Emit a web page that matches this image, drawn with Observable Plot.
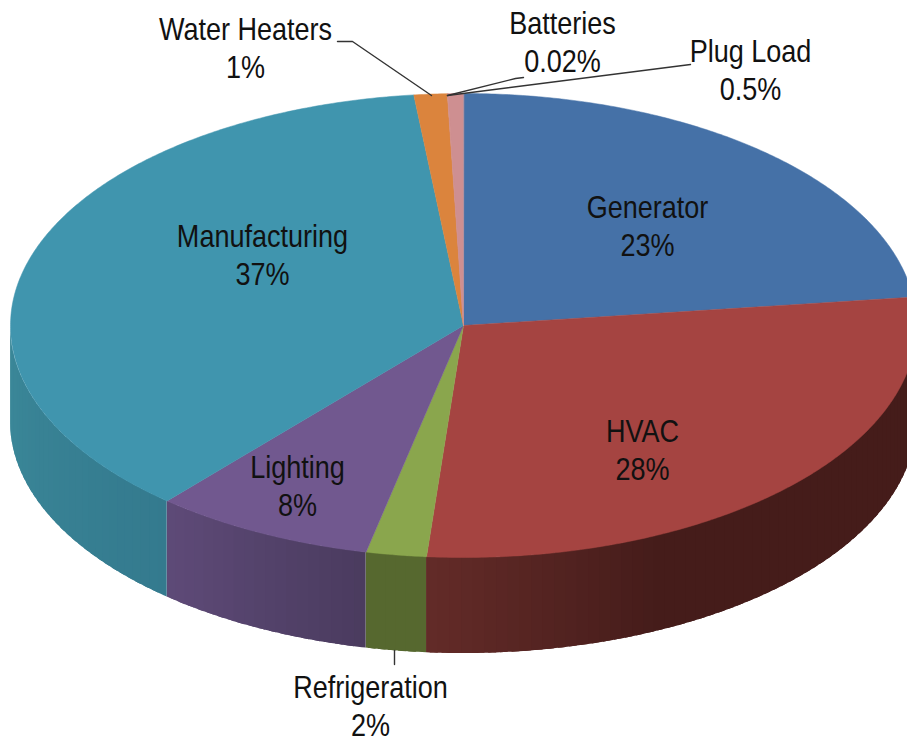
<!DOCTYPE html>
<html>
<head>
<meta charset="utf-8">
<style>html,body{margin:0;padding:0;background:#fff}svg{display:block}</style>
<script src="https://cdn.jsdelivr.net/npm/d3@7"></script>
<script src="https://cdn.jsdelivr.net/npm/@observablehq/plot@0.6"></script>
</head>
<body>
<div id="chart"></div>
<script>
// Data
const categories = ["Generator","HVAC","Refrigeration","Lighting","Manufacturing","Water Heaters","Batteries","Plug Load"];
const shares = [23.05,28.25,2.15,7.9,36.9,1.18,0.02,0.55];
const shareLabels = ["23%","28%","2%","8%","37%","1%","0.02%","0.5%"];
const topColors = ["#4571a7","#a54441","#8aa64d","#71588f","#4095ae","#db843d","#ce8f91","#ce8f91"];
const sideFrom = ["#2c476a","#451c1a","#56682f","#4a3b5e","#347a8e","#db843d","#ce8f91","#ce8f91"];
const sideTo   = ["#2c476a","#632b28","#56682f","#5e4a78","#3b8899","#db843d","#ce8f91","#ce8f91"];
// Angle up to which a side keeps its darkest shade (0 = shades over its whole length)
const sideHold = [0,155,0,0,0,0,0,0];

// Layout of the drawing, in picture units
const cx = 463, cy = 325, rx = 453, ry = 232, depth = 96;
const labelX = [647,642,370,297,262,245,562,750];
const labelY = [224.5,448.5,704.5,484,253.5,46.5,40.5,68.5];
const leaders = [
  {id:"Water Heaters", pts:[[337,41],[352,41],[431,95]]},
  {id:"Batteries", pts:[[447,95],[515,78],[523,77]]},
  {id:"Plug Load", pts:[[447,95],[690,64]]},
  {id:"Refrigeration", pts:[[394,650],[394,664]]}
];

const rad = d => d * Math.PI / 180;
const px = a => cx + rx * Math.sin(rad(a));
const py = a => cy - ry * Math.cos(rad(a));

const total = d3.sum(shares);
let acc = 0;
const slices = categories.map((name,i) => {
  const a0 = acc / total * 360; acc += shares[i];
  const a1 = acc / total * 360;
  return {name,i,a0,a1};
});

const tops = slices.flatMap(s => {
  const n = Math.max(2, Math.ceil(s.a1 - s.a0) * 2);
  const pts = [{name:s.name,x:cx,y:cy,fill:topColors[s.i]}];
  for (let k = 0; k <= n; k++) {
    const a = s.a0 + (s.a1 - s.a0) * k / n;
    pts.push({name:s.name,x:px(a),y:py(a),fill:topColors[s.i]});
  }
  return pts;
});

// Side wall: bands of shade, each overlapping the next so no seams show
const strips = slices.flatMap(s => {
  const a0 = Math.max(s.a0, 90), a1 = Math.min(s.a1, 270);
  if (a1 <= a0) return [];
  const n = Math.max(1, Math.ceil((a1 - a0) / 1.5));
  const hold = Math.max(a0, sideHold[s.i]);
  const col = d3.interpolateRgb(sideFrom[s.i], sideTo[s.i]);
  const out = [];
  for (let k = 0; k < n; k++) {
    const b0 = a0 + (a1 - a0) * k / n;
    const b1 = Math.min(a1, a0 + (a1 - a0) * (k + 1) / n + 1);
    const mid = (b0 + b1) / 2;
    const fill = col(Math.max(0, (mid - hold) / (a1 - hold)));
    const id = s.name + k;
    for (let b = b0; b < b1; b += 0.5) out.push({id, x:px(b), y1:py(b), y2:py(b)+depth, fill});
    out.push({id, x:px(b1), y1:py(b1), y2:py(b1)+depth, fill});
  }
  return out;
});

const leaderPts = leaders.flatMap(l => l.pts.map(p => ({id:l.id,x:p[0],y:p[1]})));
const labels = categories.map((c,i) => ({x:labelX[i],y:labelY[i],t:c+"\n"+shareLabels[i]}));

// The reference's lettering is narrow and tall: squeeze each label sideways
const squeeze = (index, scales, values, dims, ctx, next) => {
  const g = next(index, scales, values, dims, ctx);
  g.querySelectorAll("text").forEach(t => {
    t.setAttribute("transform", (t.getAttribute("transform") || "") + " scale(0.845,1)");
  });
  return g;
};

const chart = Plot.plot({
  width:907, height:742, margin:0,
  x:{domain:[0,907],axis:null},
  y:{domain:[0,742],range:[0,742],axis:null},
  color:{type:"identity"},
  marks:[
    Plot.areaY(strips,{x:"x",y1:"y1",y2:"y2",z:"id",fill:"fill"}),
    Plot.line(tops,{x:"x",y:"y",z:"name",fill:"fill",stroke:"fill",strokeWidth:0.5,curve:"linear-closed"}),
    Plot.line(leaderPts,{x:"x",y:"y",z:"id",stroke:"#333",strokeWidth:1.4}),
    Plot.text(labels,{x:"x",y:"y",text:"t",fontSize:32,lineHeight:1.2,fill:"#111",fontFamily:"Liberation Sans",textAnchor:"middle",render:squeeze})
  ]
});
document.getElementById("chart").append(chart);
</script>
</body>
</html>
